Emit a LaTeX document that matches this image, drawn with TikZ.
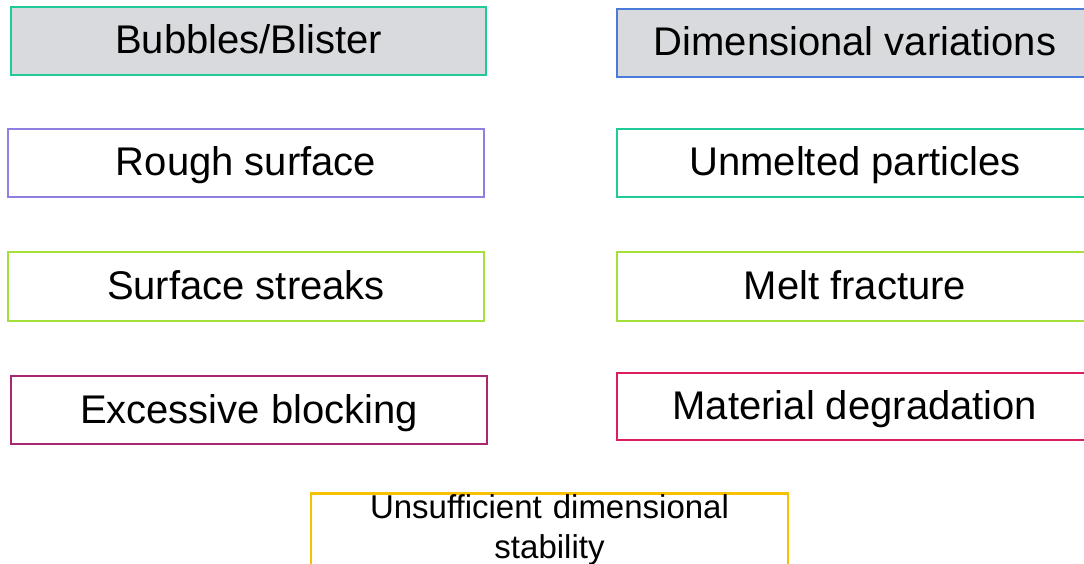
\documentclass[tikz,border=0pt]{standalone}
\usepackage{fontspec}
\setmainfont{Liberation Sans}
\definecolor{cgreen}{HTML}{1ECB98}
\definecolor{cblue}{HTML}{4A7BDB}
\definecolor{cpurple}{HTML}{8F7FE3}
\definecolor{clime}{HTML}{A6E03C}
\definecolor{cmagenta}{HTML}{A8276F}
\definecolor{ccrimson}{HTML}{DC1F5A}
\definecolor{cyellow}{HTML}{F7C100}
\definecolor{cgray}{HTML}{D9DADE}
\tikzset{
  defect/.style={draw=#1, line width=2.5pt, rectangle, inner sep=0pt,
    minimum width=476pt, minimum height=68pt,
    text height=28pt, text depth=2pt,
    font=\fontsize{40}{46}\selectfont},
  shaded/.style={fill=cgray}
}
\begin{document}
\begin{tikzpicture}[x=1pt,y=-1pt]
  \useasboundingbox (0,0) rectangle (1084,564);
  \clip (0,0) rectangle (1084,564);
  \fill[white] (0,0) rectangle (1084,564);
  % left column
  \node[defect=cgreen, shaded, minimum width=475pt] (bubbles) at (248.5,41) {Bubbles/Blister};
  \node[defect=cpurple] (rough) at (246,163) {Rough surface};
  \node[defect=clime, minimum height=69pt] (streaks) at (246,286.5) {Surface streaks};
  \node[defect=cmagenta] (blocking) at (249,410) {Excessive blocking};
  % right column
  \node[defect=cblue, shaded] (dimvar) at (855,43) {Dimensional variations};
  \node[defect=cgreen] (unmelted) at (855,163) {Unmelted particles};
  \node[defect=clime, minimum height=69pt] (fracture) at (855,286.5) {Melt fracture};
  \node[defect=ccrimson, minimum height=67pt] (degradation) at (855,406.5) {Material degradation};
  % bottom
  \node[draw=cyellow, line width=2.5pt, rectangle, inner sep=0pt,
    minimum width=477pt, anchor=north, align=center,
    text width=477pt, text height=25pt, text depth=55pt,
    font=\fontsize{33}{40}\selectfont] (stability) at (549.5,492)
    {Unsufficient dimensional\\stability};
\end{tikzpicture}
\end{document}
